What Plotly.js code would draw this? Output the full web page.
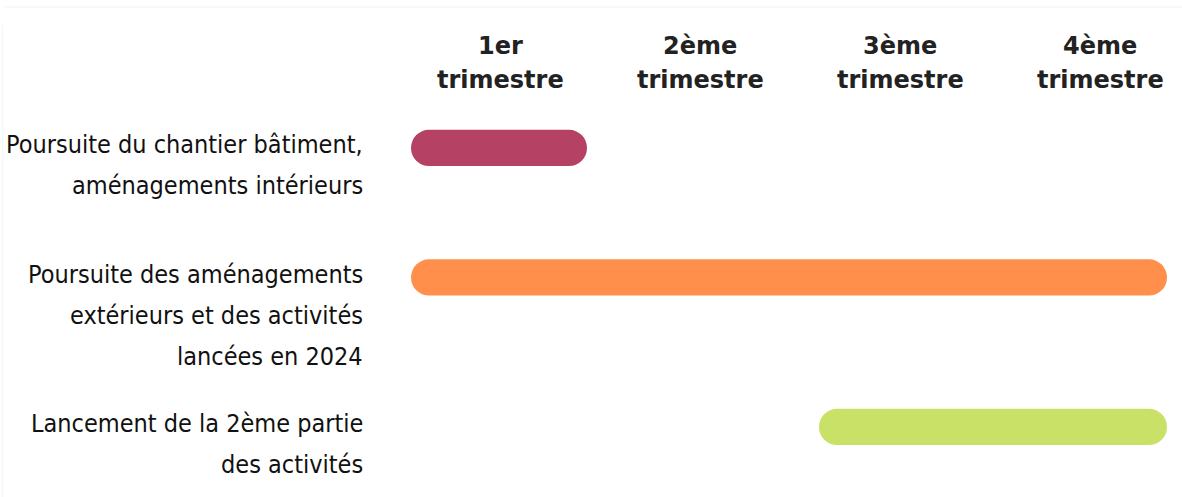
<!DOCTYPE html>
<html>
<head>
<meta charset="utf-8">
<script src="https://cdn.plot.ly/plotly-3.0.1.min.js"></script>
<style>
html,body{margin:0;padding:0;background:#fff;}
#chart{width:1182px;height:497px;}
</style>
</head>
<body>
<div id="chart"></div>
<script>
// ---- data ----
var tasks = [
  "Poursuite du chantier bâtiment,<br>aménagements intérieurs",
  "Poursuite des aménagements<br>extérieurs et des activités<br>lancées en 2024",
  "Lancement de la 2ème partie<br>des activités"
];
var taskIds = ["t1", "t2", "t3"];
var starts = [0.055, 0.055, 2.095];   // in quarters
var ends   = [0.935, 3.835, 3.835];
var colors = ["#B54265", "#FF8F4B", "#C9E166"];
var quarterPos = [0.5, 1.5, 2.5, 3.5];
var quarterLabels = ["1er<br>trimestre", "2ème<br>trimestre", "3ème<br>trimestre", "4ème<br>trimestre"];

var durations = ends.map(function(e, i){ return e - starts[i]; });

// visual layout settings (not data)
var rowPx = 139.5;            // pixel spacing of categories
var barW = 0.26;              // bar thickness in category units
var rowNudgePx = [0, 10, 0];  // upward nudge per row (pixels)
var offsets = rowNudgePx.map(function(p){ return -barW / 2 - p / rowPx; });

var trace = {
  type: "bar",
  orientation: "h",
  y: taskIds,
  x: durations,
  base: starts,
  width: barW,
  offset: offsets,
  marker: { color: colors, cornerradius: "50%" },
  hoverinfo: "skip",
  showlegend: false
};

var annotations = [];
// row labels, one annotation per line
tasks.forEach(function(t, i){
  t.split("<br>").forEach(function(line, j){
    annotations.push({
      xref: "paper", yref: "y", x: 0, y: taskIds[i],
      xanchor: "right", yanchor: "middle",
      xshift: -35, yshift: 3 + rowNudgePx[i] - 41 * j,
      text: line, showarrow: false, align: "right",
      font: { family: "DejaVu Sans Condensed, DejaVu Sans, sans-serif", size: 25, color: "#111" }
    });
  });
});
// header labels (quarters)
quarterLabels.forEach(function(q, k){
  q.split("<br>").forEach(function(line, j){
    annotations.push({
      xref: "x", yref: "paper", x: quarterPos[k], y: 1,
      xanchor: "center", yanchor: "middle",
      yshift: 54 - 34 * j,
      text: line, showarrow: false,
      font: { family: "DejaVu Sans, sans-serif", size: 24, color: "#222", weight: 700 }
    });
  });
});

var layout = {
  width: 1182, height: 497,
  margin: { l: 400, r: 0, t: 100, b: 0 },
  paper_bgcolor: "#fff", plot_bgcolor: "#fff",
  xaxis: { range: [0, 3.91], showgrid: false, zeroline: false, showticklabels: false, showline: false, fixedrange: true },
  yaxis: { type: "category", categoryarray: taskIds, categoryorder: "array", range: [2.502, -0.344],
           showgrid: false, zeroline: false, showticklabels: false, showline: false, fixedrange: true },
  annotations: annotations,
  shapes: [
    { type: "line", xref: "paper", yref: "paper", x0: -0.505, x1: 1, y0: 1.234, y1: 1.234, line: { color: "#f1f1f1", width: 1 } },
    { type: "line", xref: "paper", yref: "paper", x0: -0.508, x1: -0.508, y0: 0, y1: 1.19, line: { color: "#f4f4f4", width: 1 } }
  ],
  showlegend: false
};

Plotly.newPlot("chart", [trace], layout, { displayModeBar: false, staticPlot: true });
</script>
</body>
</html>
